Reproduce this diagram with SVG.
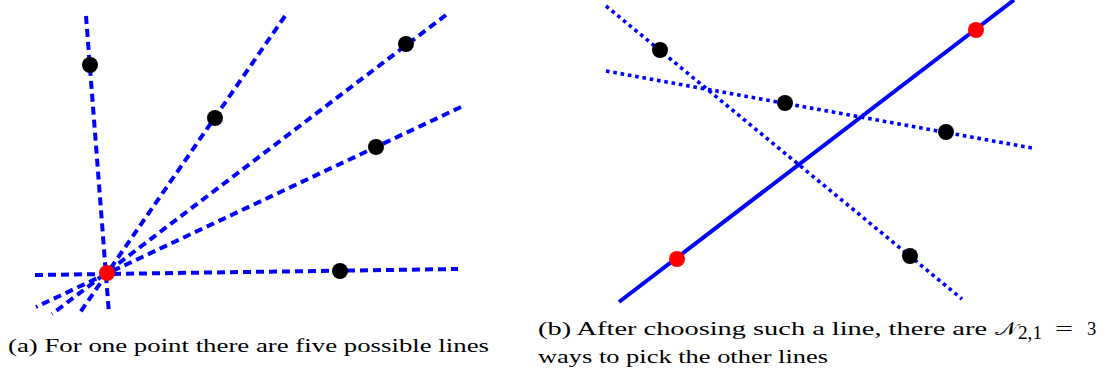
<svg xmlns="http://www.w3.org/2000/svg" width="1107" height="375" viewBox="0 0 1107 375">
<style>
.dash{stroke:#0000ff;stroke-width:4;stroke-dasharray:8 5;fill:none}
.dot{stroke:#0000ff;stroke-width:3.6;stroke-dasharray:3.6 3.8;fill:none}
.solid{stroke:#0000ff;stroke-width:4;fill:none}
.pt{fill:#000}
.rp{fill:#ff0000}
.cap{font-family:"Liberation Serif","DejaVu Serif",serif;font-size:18.5px;fill:#000}
</style>
<g id="connectors">
<line class="dash" x1="86" y1="16" x2="109" y2="314"/>
<line class="dash" x1="285" y1="16" x2="79" y2="314"/>
<line class="dash" x1="446" y1="15" x2="52" y2="314"/>
<line class="dash" x1="461" y1="107" x2="36" y2="307"/>
<line class="dash" x1="35" y1="275" x2="458" y2="269"/>
<line class="solid" x1="619" y1="302" x2="1014" y2="0"/>
<line class="dot" x1="606" y1="6" x2="962" y2="299"/>
<line class="dot" x1="606" y1="71" x2="1032" y2="148"/>
</g>
<g id="panel-a-points">
<circle class="pt" cx="90" cy="65" r="8"/>
<circle class="pt" cx="215" cy="118" r="8"/>
<circle class="pt" cx="406" cy="44" r="8"/>
<circle class="pt" cx="376" cy="147" r="8"/>
<circle class="pt" cx="340" cy="271" r="8"/>
<circle class="rp" cx="107" cy="273" r="8"/>
</g>
<g id="panel-b-points">
<circle class="pt" cx="660" cy="50" r="8"/>
<circle class="pt" cx="785" cy="103" r="8"/>
<circle class="pt" cx="946" cy="132" r="8"/>
<circle class="pt" cx="910" cy="256" r="8"/>
<circle class="rp" cx="976" cy="30" r="8"/>
<circle class="rp" cx="677" cy="259" r="8"/>
</g>
<g id="captions">
<text class="cap" x="8" y="352" textLength="481" lengthAdjust="spacingAndGlyphs">(a) For one point there are five possible lines</text>
<text class="cap" x="538" y="335" textLength="449" lengthAdjust="spacingAndGlyphs">(b) After choosing such a line, there are</text>
<text class="cap" x="995" y="335" textLength="22" lengthAdjust="spacingAndGlyphs">𝒩</text>
<text class="cap" x="1018" y="339" font-size="13px" textLength="24" lengthAdjust="spacingAndGlyphs">2,1</text>
<text class="cap" x="1055" y="335" textLength="18" lengthAdjust="spacingAndGlyphs">=</text>
<text class="cap" x="1087" y="335">3</text>
<text class="cap" x="538" y="363" textLength="290" lengthAdjust="spacingAndGlyphs">ways to pick the other lines</text>
</g>
</svg>
